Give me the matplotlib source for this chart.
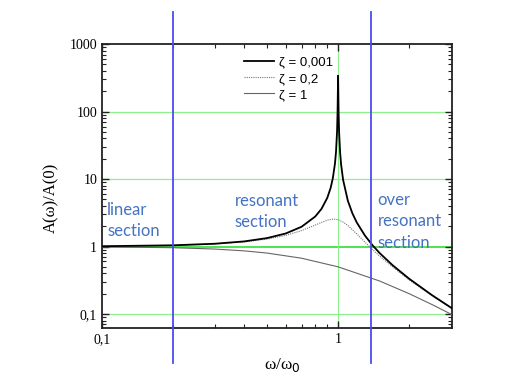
import matplotlib
matplotlib.use("Agg")
import matplotlib.pyplot as plt
from matplotlib.lines import Line2D
from matplotlib.transforms import blended_transform_factory
from matplotlib.ticker import FixedLocator, LogLocator, NullFormatter

# frequency ratio omega/omega0
x_001 = [0.1, 0.2, 0.3, 0.4, 0.5, 0.6, 0.7, 0.8, 0.85, 0.9, 0.93, 0.95, 0.97, 0.98, 0.99, 0.995,
         1.0, 1.005, 1.01, 1.02, 1.03, 1.05, 1.1, 1.15, 1.2, 1.3, 1.4, 1.5, 1.7, 2.0, 2.5, 3.0, 3.1]
y_001 = [1.01, 1.042, 1.099, 1.19, 1.333, 1.56, 1.96, 2.78, 3.6, 5.26, 7.4, 10.26, 16.9, 25.2, 50.2, 100,
         340, 99.7, 49.8, 24.8, 16.4, 9.76, 4.76, 3.1, 2.27, 1.45, 1.04, 0.8, 0.53, 0.333, 0.19, 0.125, 0.116]

x_02 = [0.1, 0.2, 0.3, 0.4, 0.5, 0.6, 0.7, 0.8, 0.85, 0.9, 0.95, 1.0, 1.05, 1.1, 1.2, 1.3, 1.4,
        1.5, 1.7, 2.0, 2.5, 3.0, 3.1]
y_02 = [1.009, 1.038, 1.09, 1.17, 1.29, 1.46, 1.72, 2.08, 2.27, 2.46, 2.55, 2.5, 2.3, 2.05, 1.54, 1.16, 0.9,
        0.72, 0.5, 0.32, 0.187, 0.124, 0.116]

x_1 = [0.1, 0.2, 0.3, 0.4, 0.5, 0.7, 1.0, 1.5, 2.0, 2.5, 3.0, 3.1]
y_1 = [0.99, 0.96, 0.917, 0.862, 0.8, 0.671, 0.5, 0.308, 0.2, 0.138, 0.1, 0.094]

labels = ["ζ = 0,001", "ζ = 0,2", "ζ = 1"]
section_x = [0.2, 1.38]
y_ticks = [0.1, 1, 10, 100, 1000]
y_ticklabels = ["0,1", "1", "10", "100", "1000"]
x_ticks = [0.1, 1]
x_ticklabels = ["0,1", "1"]

serif = "Liberation Serif"
blue_txt = "#4472C4"
green = "#8CF08C"

fig = plt.figure(figsize=(5.18, 3.79), dpi=100)
ax = fig.add_axes([0.197, 0.1346, 0.6757, 0.749])
ax.set_xscale("log")
ax.set_yscale("log")
ax.set_xlim(0.1, 3.04)
ax.set_ylim(0.062, 1000)

# grid lines
for gy in [0.1, 10, 100]:
    ax.axhline(gy, color=green, lw=0.9, zorder=1)
ax.axhline(1, color="#33DD33", lw=1.2, zorder=1)
ax.axvline(1, color=green, lw=0.8, zorder=1)

l1, = ax.plot(x_001, y_001, color="black", lw=1.3, zorder=4)
l2, = ax.plot(x_02, y_02, color="#777777", lw=0.8, ls=(0, (1, 1)), zorder=3)
l3, = ax.plot(x_1, y_1, color="#666666", lw=0.8, zorder=3)

leg = ax.legend([l1, l2, l3], labels, loc="upper left", bbox_to_anchor=(0.39, 0.975),
                frameon=False, prop={"family": "Liberation Sans", "size": 9.5},
                handlelength=2.3, handletextpad=0.35, labelspacing=0.3, borderaxespad=0)

# ticks
ax.xaxis.set_major_locator(FixedLocator(x_ticks))
ax.set_xticklabels(x_ticklabels)
ax.xaxis.set_minor_locator(LogLocator(base=10, subs=range(2, 10), numticks=20))
ax.xaxis.set_minor_formatter(NullFormatter())
ax.yaxis.set_major_locator(FixedLocator(y_ticks))
ax.set_yticklabels(y_ticklabels)
ax.yaxis.set_minor_locator(LogLocator(base=10, subs=range(2, 10), numticks=20))
ax.yaxis.set_minor_formatter(NullFormatter())
ax.tick_params(which="both", direction="in", top=True, right=True, color="#222222")
ax.tick_params(which="major", length=5, width=1)
ax.tick_params(which="minor", length=3, width=0.8)
for lab in ax.get_xticklabels() + ax.get_yticklabels():
    lab.set_fontfamily(serif)
    lab.set_fontsize(10)
for sp in ax.spines.values():
    sp.set_linewidth(1.3)
    sp.set_color("#222222")

ax.set_ylabel("A(ω)/A(0)", family=serif, fontsize=12, va="center", ha="center")
ax.yaxis.set_label_coords(-0.146, 0.458)
ax.set_xlabel("ω/ω$_0$", family=serif, fontsize=12.5, va="center", ha="center")
ax.xaxis.set_label_coords(0.514, -0.13)

# section boundaries (extend beyond axes)
tr = blended_transform_factory(ax.transData, fig.transFigure)
for sx in section_x:
    fig.add_artist(Line2D([sx, sx], [1 - 12 / 379, 1 - 363 / 379], transform=tr,
                          color="#4B4BF0", lw=1.3, zorder=5))

tf = "Lato"
ax.text(0.105, 2.4, "linear\nsection", color=blue_txt, family=tf, fontsize=12,
        ha="left", va="center", linespacing=1.4, zorder=6)
ax.text(0.365, 3.3, "resonant\nsection", color=blue_txt, family=tf, fontsize=12,
        ha="left", va="center", linespacing=1.4, zorder=6)
ax.text(1.47, 2.35, "over\nresonant\nsection", color=blue_txt, family=tf, fontsize=12,
        ha="left", va="center", linespacing=1.4, zorder=6)

fig.savefig("out.png", dpi=100)
